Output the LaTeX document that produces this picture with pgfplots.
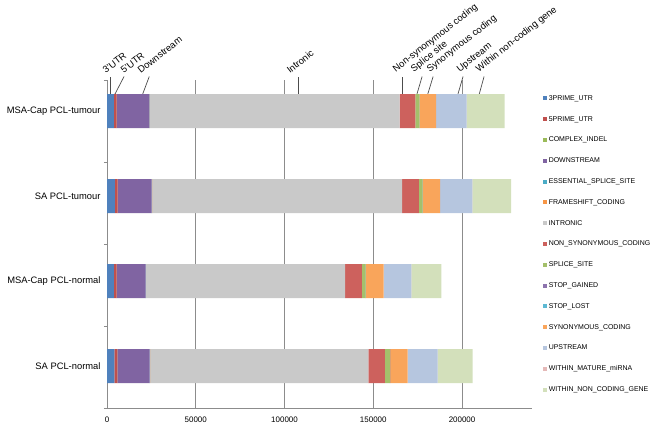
\documentclass[border=0pt]{standalone}
\usepackage{fontspec}
\setmainfont{Liberation Sans}
\usepackage{pgfplots}
\pgfplotsset{compat=1.18}
\usepackage{pgfplotstable}

\definecolor{cUtrA}{HTML}{4F81BD}
\definecolor{cUtrB}{HTML}{C0504D}
\definecolor{cIndel}{HTML}{9BBB59}
\definecolor{cDown}{HTML}{8064A2}
\definecolor{cEss}{HTML}{4BACC6}
\definecolor{cFrame}{HTML}{F79646}
\definecolor{cIntr}{HTML}{C9C9C9}
\definecolor{cNonsyn}{HTML}{CD615D}
\definecolor{cSplice}{HTML}{A4C06B}
\definecolor{cSgain}{HTML}{8D74AE}
\definecolor{cSlost}{HTML}{5DB9D3}
\definecolor{cSyn}{HTML}{F9A55B}
\definecolor{cUp}{HTML}{B6C6DF}
\definecolor{cMirna}{HTML}{E5B9B8}
\definecolor{cWncg}{HTML}{D3E0BB}
\definecolor{axgray}{HTML}{8C8C8C}

\tikzset{
  ldr/.style={draw=black!70, line width=0.7pt},
  ann/.style={rotate=38, anchor=south west, inner sep=0pt, font=\fontsize{9.5}{10}\selectfont},
}

% rows: 0 = SA PCL-normal ... 3 = MSA-Cap PCL-tumour
\pgfplotstableread{
y utrA utrB indel down ess frame intr nonsyn splice sgain slost syn up mirna wncg
0 4100 1700 30 18200 150 80 122900 9400 2800 100 10 9900 16900 5 19700
1 3900 1500 30 16300 150 80 112200 9400 2100 100 10 10100 15600 5 16900
2 4500 1500 30 19100 150 80 140900 9400 2100 100 10 9800 18200 5 21800
3 3900 1500 30 18500 150 80 140700 8800 2250 100 10 9400 17100 5 21400
}\data

\begin{document}
\begin{tikzpicture}
\path (0,0) rectangle (662bp,428bp);
\begin{axis}[
  at={(107bp,20bp)}, anchor=south west,
  scale only axis,
  width=425bp, height=328bp,
  xmin=0, xmax=239400,
  ymin=-0.494, ymax=3.365,
  xbar stacked,
  bar width=34bp,
  clip=false,
  axis lines*=left,
  axis line style={axgray},
  xtick={0,50000,100000,150000,200000},
  xticklabels={0,50000,100000,150000,200000},
  scaled x ticks=false,
  xticklabel style={font=\fontsize{8}{9}\selectfont, yshift=-5bp},
  ytick={0,1,2,3},
  yticklabels={SA PCL-normal, MSA-Cap PCL-normal, SA PCL-tumour, MSA-Cap PCL-tumour},
  yticklabel style={font=\fontsize{9.4}{10}\selectfont, xshift=-3bp},
  major tick length=0pt,
  extra y ticks={-0.494,0.471,1.435,2.4,3.365},
  extra y tick labels={},
  extra y tick style={major tick length=3bp, tick align=outside, tick style={axgray, line width=0.8pt}},
  xmajorgrids,
  grid style={axgray, line width=0.8pt},
  legend image code/.code={\path[#1] (0bp,-2bp) rectangle (4bp,2bp);},
  legend cell align=left,
  legend style={
    at={(axis description cs:1.019,0.960)}, anchor=north west,
    draw=none, fill=none,
    font=\fontsize{7}{8}\selectfont,
    row sep=14.8bp,
    nodes={inner sep=0pt, inner xsep=1.5bp, text height=5bp, text depth=1bp},
  },
]
\addplot[fill=cUtrA, draw=none] table[x=utrA, y=y] {\data};
\addplot[fill=cUtrB, draw=none] table[x=utrB, y=y] {\data};
\addplot[fill=cIndel, draw=none] table[x=indel, y=y] {\data};
\addplot[fill=cDown, draw=none] table[x=down, y=y] {\data};
\addplot[fill=cEss, draw=none] table[x=ess, y=y] {\data};
\addplot[fill=cFrame, draw=none] table[x=frame, y=y] {\data};
\addplot[fill=cIntr, draw=none] table[x=intr, y=y] {\data};
\addplot[fill=cNonsyn, draw=none] table[x=nonsyn, y=y] {\data};
\addplot[fill=cSplice, draw=none] table[x=splice, y=y] {\data};
\addplot[fill=cSgain, draw=none] table[x=sgain, y=y] {\data};
\addplot[fill=cSlost, draw=none] table[x=slost, y=y] {\data};
\addplot[fill=cSyn, draw=none] table[x=syn, y=y] {\data};
\addplot[fill=cUp, draw=none] table[x=up, y=y] {\data};
\addplot[fill=cMirna, draw=none] table[x=mirna, y=y] {\data};
\addplot[fill=cWncg, draw=none] table[x=wncg, y=y] {\data};
\legend{3PRIME\_UTR, 5PRIME\_UTR, COMPLEX\_INDEL, DOWNSTREAM, ESSENTIAL\_SPLICE\_SITE,
  FRAMESHIFT\_CODING, INTRONIC, NON\_SYNONYMOUS\_CODING, SPLICE\_SITE, STOP\_GAINED,
  STOP\_LOST, SYNONYMOUS\_CODING, UPSTREAM, WITHIN\_MATURE\_miRNA, WITHIN\_NON\_CODING\_GENE}

% leader lines and labels above the top bar
\draw[ldr] (axis cs:1690,3.2) -- (axis cs:1690,3.406);
\draw[ldr] (axis cs:4500,3.2) -- (axis cs:9600,3.406);
\draw[ldr] (axis cs:20100,3.2) -- (axis cs:23800,3.406);
\draw[ldr] (axis cs:107600,3.2) -- (axis cs:107600,3.406);
\draw[ldr] (axis cs:166200,3.2) -- (axis cs:166200,3.406);
\draw[ldr] (axis cs:174600,3.2) -- (axis cs:177500,3.406);
\draw[ldr] (axis cs:180700,3.2) -- (axis cs:183700,3.406);
\draw[ldr] (axis cs:197700,3.2) -- (axis cs:200560,3.406);
\draw[ldr] (axis cs:209700,3.2) -- (axis cs:212400,3.406);
\node[ann] at (axis cs:-560,3.435) {3'UTR};
\node[ann] at (axis cs:9580,3.435) {5'UTR};
\node[ann] at (axis cs:19150,3.435) {Downstream};
\node[ann] at (axis cs:103100,3.435) {Intronic};
\node[ann] at (axis cs:163400,3.435) {Non-synonymous coding};
\node[ann] at (axis cs:173500,3.435) {Splice site};
\node[ann] at (axis cs:182500,3.435) {Synonymous coding};
\node[ann] at (axis cs:199400,3.435) {Upstream};
\node[ann] at (axis cs:210100,3.435) {Within non-coding gene};
\end{axis}
\end{tikzpicture}
\end{document}
